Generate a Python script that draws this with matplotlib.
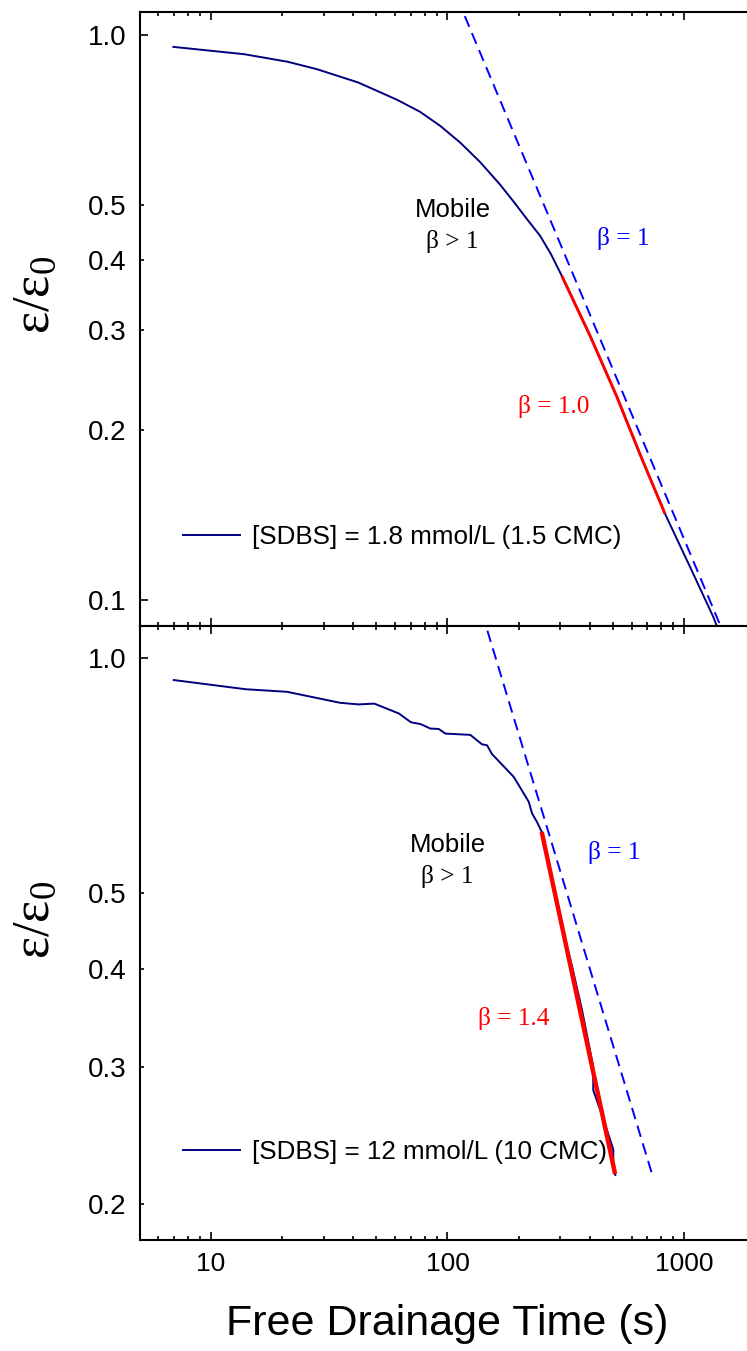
import matplotlib
matplotlib.use("Agg")
import matplotlib.pyplot as plt
from matplotlib.ticker import FixedLocator, FixedFormatter, NullFormatter, LogLocator

plt.rcParams['font.family'] = ['Liberation Sans', 'DejaVu Sans']

# ---------------- data ----------------
# top panel: [SDBS] = 1.8 mmol/L
top_t = [6.95, 13.84, 21.1, 28.1, 42.0, 61.6, 76.6, 93.1, 113.1, 137.3, 166.8, 189.8,
         216.9, 246, 274, 304, 400, 519, 651, 830, 1059, 1328, 1400]
top_e = [0.954, 0.926, 0.898, 0.871, 0.825, 0.768, 0.732, 0.6915, 0.6459, 0.5965, 0.544,
         0.5082, 0.4723, 0.4417, 0.4093, 0.375, 0.2938, 0.2292, 0.181, 0.142, 0.1143,
         0.0932, 0.088]
top_fit_t = [304, 400, 519, 651, 830]
top_fit_e = [0.375, 0.2938, 0.2292, 0.181, 0.142]
top_b1_t = [110, 1500]
top_b1_e = [1.164, 0.0853]

# bottom panel: [SDBS] = 12 mmol/L
bot_t = [6.98, 14.0, 21.0, 35.3, 42.2, 49.1, 62.3, 70.2, 76.8, 84.7, 91.9, 98.0,
         124.9, 140.0, 147.0, 154.3, 190.6, 220.6, 227.8, 239.1, 250.2, 300, 335,
         370, 413, 413, 460, 502, 502, 512]
bot_e = [0.938, 0.913, 0.906, 0.877, 0.873, 0.875, 0.850, 0.828, 0.824, 0.813, 0.812,
         0.801, 0.798, 0.776, 0.774, 0.754, 0.705, 0.655, 0.633, 0.617, 0.5995, 0.46,
         0.405, 0.355, 0.300, 0.280, 0.255, 0.235, 0.222, 0.218]
bot_fit_t = [250.2, 511]
bot_fit_e = [0.5995, 0.2186]
bot_b1_t = [140, 741]
bot_b1_e = [1.143, 0.2159]

top_label = "[SDBS] = 1.8 mmol/L (1.5 CMC)"
bot_label = "[SDBS] = 12 mmol/L (10 CMC)"
x_ticks = [10, 100, 1000]
x_ticklabels = ["10", "100", "1000"]
top_major = [0.1, 1.0]
top_major_lbl = ["0.1", "1.0"]
bot_major = [1.0]
bot_major_lbl = ["1.0"]
minor_y = [0.2, 0.3, 0.4, 0.5]
minor_y_lbl = ["0.2", "0.3", "0.4", "0.5"]

NAVY = '#000080'
BLUE = '#0000FF'
RED = '#FF0000'

W, H = 747, 1351
fig = plt.figure(figsize=(W / 100, H / 100), dpi=100)

def fx(px):
    return px / W

def fy(py):
    return 1 - py / H

L, R = 139.5, 755.4
ax1 = fig.add_axes([fx(L), fy(625.5), (R - L) / W, (625.5 - 12) / H])
ax2 = fig.add_axes([fx(L), fy(1240), (R - L) / W, (1240 - 626) / H])

SERIF = ['Liberation Serif', 'DejaVu Serif']
SFS = 18.3  # serif annotation size
LEGFS = 18.7

for ax in (ax1, ax2):
    ax.set_xscale('log')
    ax.set_yscale('log')
    ax.set_xlim(5, 2000)
    ax.xaxis.set_major_locator(FixedLocator(x_ticks))
    ax.xaxis.set_major_formatter(FixedFormatter(x_ticklabels))
    ax.xaxis.set_minor_locator(LogLocator(base=10, subs=range(2, 10)))
    ax.xaxis.set_minor_formatter(NullFormatter())
    ax.yaxis.set_minor_locator(FixedLocator(minor_y))
    ax.yaxis.set_minor_formatter(FixedFormatter(minor_y_lbl))
    ax.tick_params(which='both', direction='in', top=True, right=True, width=1.2)
    ax.tick_params(axis='y', which='both', pad=9.5, labelsize=20)
    ax.tick_params(axis='x', which='both', pad=8.5, labelsize=19)
    ax.tick_params(which='major', length=6)
    ax.tick_params(which='minor', length=3.2)
    for s in ax.spines.values():
        s.set_linewidth(1.5)

ax1.set_ylim(0.09, 1.1)
ax1.yaxis.set_major_locator(FixedLocator(top_major))
ax1.yaxis.set_major_formatter(FixedFormatter(top_major_lbl))
ax1.tick_params(axis='x', which='both', labelbottom=False)

ax2.set_ylim(0.18, 1.1)
ax2.yaxis.set_major_locator(FixedLocator(bot_major))
ax2.yaxis.set_major_formatter(FixedFormatter(bot_major_lbl))

dash = (0, (6, 3.5))
# top panel
l1, = ax1.plot(top_t, top_e, color=NAVY, lw=1.4, label=top_label)
ax1.plot(top_fit_t, top_fit_e, color=RED, lw=2.1, solid_capstyle='butt')
ax1.plot(top_b1_t, top_b1_e, color=BLUE, lw=1.4, linestyle=dash)
# bottom panel
l2, = ax2.plot(bot_t, bot_e, color=NAVY, lw=1.4, label=bot_label)
ax2.plot(bot_fit_t, bot_fit_e, color=RED, lw=3.2, solid_capstyle='butt')
ax2.plot(bot_b1_t, bot_b1_e, color=BLUE, lw=1.4, linestyle=dash)

for ax, h, yy in ((ax1, l1, 537), (ax2, l2, 1152)):
    ax.legend(handles=[h], loc='center left',
              bbox_to_anchor=(fx(183), fy(yy)), bbox_transform=fig.transFigure,
              frameon=False, borderpad=0, borderaxespad=0, fontsize=LEGFS,
              handlelength=2.19, handletextpad=0.46)

ax2.set_xlabel("Free Drainage Time (s)", fontsize=31, labelpad=20)

# y labels
for yc in (295, 920):
    fig.text(fx(36), fy(yc), r'$\mathregular{ε/ε_0}$', rotation=90,
             fontsize=38, family=SERIF, ha='center', va='center')

# annotations
fig.text(fx(453), fy(217), "Mobile", fontsize=18.5, ha='center', va='baseline')
fig.text(fx(452), fy(248), "β > 1", fontsize=SFS, family=SERIF, ha='center', va='baseline')
fig.text(fx(597), fy(245), "β = 1", fontsize=SFS, family=SERIF, color=BLUE, ha='left', va='baseline')
fig.text(fx(518), fy(413), "β = 1.0", fontsize=SFS, family=SERIF, color=RED, ha='left', va='baseline')

fig.text(fx(448), fy(851.5), "Mobile", fontsize=18.5, ha='center', va='baseline')
fig.text(fx(447), fy(883), "β > 1", fontsize=SFS, family=SERIF, ha='center', va='baseline')
fig.text(fx(588), fy(859), "β = 1", fontsize=SFS, family=SERIF, color=BLUE, ha='left', va='baseline')
fig.text(fx(478), fy(1025), "β = 1.4", fontsize=SFS, family=SERIF, color=RED, ha='left', va='baseline')

fig.savefig("out.png", dpi=100)
